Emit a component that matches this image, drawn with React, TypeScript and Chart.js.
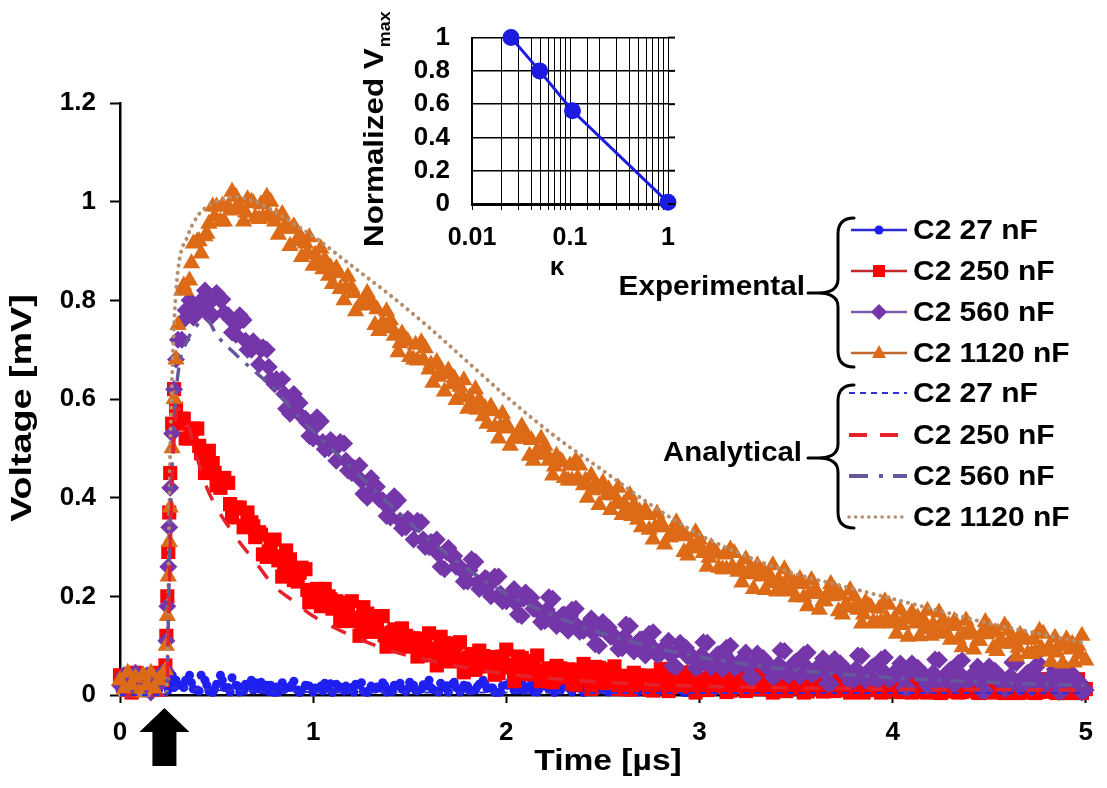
import React, { useEffect, useRef } from 'react';
import { Chart, registerables } from 'chart.js';
Chart.register(...registerables);

const FONT = "'Liberation Sans', Arial, Helvetica, sans-serif";

// ---------- main chart data ----------
// sample times (µs) of the recorded traces
const timeUs = [
  0, 0.02, 0.04, 0.06, 0.08, 0.1, 0.12, 0.14, 0.16, 0.18, 0.2, 0.22,
  0.235, 0.24, 0.245, 0.25, 0.255, 0.26, 0.27, 0.28, 0.29, 0.3,
  0.32, 0.36, 0.4, 0.44, 0.48, 0.52, 0.56, 0.6, 0.64, 0.68,
  0.72, 0.76, 0.8, 0.84, 0.88, 0.92, 0.96, 1, 1.04, 1.08,
  1.12, 1.16, 1.2, 1.24, 1.28, 1.32, 1.36, 1.4, 1.44, 1.48,
  1.52, 1.56, 1.6, 1.64, 1.68, 1.72, 1.76, 1.8, 1.84, 1.88,
  1.92, 1.96, 2, 2.04, 2.08, 2.12, 2.16, 2.2, 2.24, 2.28,
  2.32, 2.36, 2.4, 2.44, 2.48, 2.52, 2.56, 2.6, 2.64, 2.68,
  2.72, 2.76, 2.8, 2.84, 2.88, 2.92, 2.96, 3, 3.04, 3.08,
  3.12, 3.16, 3.2, 3.24, 3.28, 3.32, 3.36, 3.4, 3.44, 3.48,
  3.52, 3.56, 3.6, 3.64, 3.68, 3.72, 3.76, 3.8, 3.84, 3.88,
  3.92, 3.96, 4, 4.04, 4.08, 4.12, 4.16, 4.2, 4.24, 4.28,
  4.32, 4.36, 4.4, 4.44, 4.48, 4.52, 4.56, 4.6, 4.64, 4.68,
  4.72, 4.76, 4.8, 4.84, 4.88, 4.92, 4.96, 5,
];
// in-between sample times (µs)
const timeUsMid = [
  0.34, 0.38, 0.42, 0.46, 0.5, 0.54, 0.58, 0.62, 0.66, 0.7,
  0.74, 0.78, 0.82, 0.86, 0.9, 0.94, 0.98, 1.02, 1.06, 1.1,
  1.14, 1.18, 1.22, 1.26, 1.3, 1.34, 1.38, 1.42, 1.46, 1.5,
  1.54, 1.58, 1.62, 1.66, 1.7, 1.74, 1.78, 1.82, 1.86, 1.9,
  1.94, 1.98, 2.02, 2.06, 2.1, 2.14, 2.18, 2.22, 2.26, 2.3,
  2.34, 2.38, 2.42, 2.46, 2.5, 2.54, 2.58, 2.62, 2.66, 2.7,
  2.74, 2.78, 2.82, 2.86, 2.9, 2.94, 2.98, 3.02, 3.06, 3.1,
  3.14, 3.18, 3.22, 3.26, 3.3, 3.34, 3.38, 3.42, 3.46, 3.5,
  3.54, 3.58, 3.62, 3.66, 3.7, 3.74, 3.78, 3.82, 3.86, 3.9,
  3.94, 3.98, 4.02, 4.06, 4.1, 4.14, 4.18, 4.22, 4.26, 4.3,
  4.34, 4.38, 4.42, 4.46, 4.5, 4.54, 4.58, 4.62, 4.66, 4.7,
  4.74, 4.78, 4.82, 4.86, 4.9, 4.94, 4.98,
];
// offset sample times (µs)
const timeUsOffset = [
  0.33, 0.37, 0.41, 0.45, 0.49, 0.53, 0.57, 0.61, 0.65, 0.69,
  0.73, 0.77, 0.81, 0.85, 0.89, 0.93, 0.97, 1.01, 1.05, 1.09,
  1.13, 1.17, 1.21, 1.25, 1.29, 1.33, 1.37, 1.41, 1.45, 1.49,
  1.53, 1.57, 1.61, 1.65, 1.69, 1.73, 1.77, 1.81, 1.85, 1.89,
  1.93, 1.97, 2.01, 2.05, 2.09, 2.13, 2.17, 2.21, 2.25, 2.29,
  2.33, 2.37, 2.41, 2.45, 2.49, 2.53, 2.57, 2.61, 2.65, 2.69,
  2.73, 2.77, 2.81, 2.85, 2.89, 2.93, 2.97, 3.01, 3.05, 3.09,
  3.13, 3.17, 3.21, 3.25, 3.29, 3.33, 3.37, 3.41, 3.45, 3.49,
  3.53, 3.57, 3.61, 3.65, 3.69, 3.73, 3.77, 3.81, 3.85, 3.89,
  3.93, 3.97, 4.01, 4.05, 4.09, 4.13, 4.17, 4.21, 4.25, 4.29,
  4.33, 4.37, 4.41, 4.45, 4.49, 4.53, 4.57, 4.61, 4.65, 4.69,
  4.73, 4.77, 4.81, 4.85, 4.89, 4.93, 4.97,
];

const exp1120nF = [
  0.03, 0.01, 0.045, 0.02, 0.035, 0.005, 0.04, 0.02, 0.045, 0.01, 0.03, 0.04,
  0.05, 0.1, 0.16, 0.24, 0.31, 0.38, 0.5, 0.6, 0.68, 0.75,
  0.82, 0.84, 0.92, 0.93, 0.99, 0.96, 0.99, 1.01, 0.96, 1.0,
  0.965, 1.01, 0.96, 0.975, 0.91, 0.92, 0.915, 0.87, 0.905, 0.85,
  0.865, 0.8, 0.825, 0.79, 0.815, 0.75, 0.755, 0.76, 0.695, 0.72,
  0.68, 0.715, 0.66, 0.675, 0.615, 0.63, 0.625, 0.58, 0.62, 0.565,
  0.585, 0.52, 0.55, 0.52, 0.545, 0.485, 0.495, 0.505, 0.445, 0.475,
  0.435, 0.475, 0.425, 0.445, 0.385, 0.405, 0.405, 0.365, 0.405, 0.355,
  0.375, 0.315, 0.35, 0.32, 0.35, 0.29, 0.305, 0.315, 0.26, 0.29,
  0.255, 0.295, 0.25, 0.275, 0.215, 0.24, 0.245, 0.21, 0.255, 0.21,
  0.235, 0.18, 0.215, 0.19, 0.225, 0.17, 0.185, 0.2, 0.145, 0.18,
  0.145, 0.19, 0.145, 0.172, 0.118, 0.145, 0.152, 0.12, 0.167, 0.124,
  0.15, 0.097, 0.134, 0.11, 0.148, 0.095, 0.112, 0.13, 0.078, 0.115,
  0.083, 0.13, 0.088, 0.116, 0.064, 0.092, 0.1, 0.07,
];
const exp1120nFMid = [
  0.82, 0.915, 0.895, 0.955, 0.99, 0.96, 1.02, 0.985, 1.005, 0.968,
  0.968, 1.0, 0.933, 0.953, 0.95, 0.888, 0.928, 0.878, 0.883, 0.833,
  0.823, 0.848, 0.778, 0.798, 0.798, 0.738, 0.778, 0.728, 0.733, 0.685,
  0.678, 0.703, 0.633, 0.655, 0.658, 0.598, 0.638, 0.59, 0.598, 0.55,
  0.543, 0.57, 0.505, 0.528, 0.53, 0.475, 0.52, 0.475, 0.485, 0.44,
  0.435, 0.465, 0.4, 0.425, 0.43, 0.375, 0.42, 0.375, 0.385, 0.34,
  0.335, 0.368, 0.305, 0.33, 0.335, 0.283, 0.33, 0.288, 0.3, 0.258,
  0.255, 0.288, 0.228, 0.255, 0.263, 0.213, 0.263, 0.223, 0.238, 0.198,
  0.198, 0.233, 0.173, 0.203, 0.213, 0.163, 0.213, 0.173, 0.188, 0.148,
  0.148, 0.183, 0.124, 0.155, 0.167, 0.119, 0.171, 0.134, 0.151, 0.112,
  0.114, 0.151, 0.092, 0.124, 0.137, 0.089, 0.141, 0.104, 0.122, 0.084,
  0.087, 0.124, 0.067, 0.1, 0.113, 0.066, 0.12,
];
const exp1120nFOffset = [
  0.83, 0.875, 0.92, 0.935, 0.97, 0.992, 0.982, 0.993, 0.978, 0.997,
  0.995, 0.975, 0.97, 0.945, 0.945, 0.932, 0.897, 0.893, 0.863, 0.867,
  0.855, 0.825, 0.815, 0.79, 0.79, 0.782, 0.747, 0.743, 0.713, 0.717,
  0.71, 0.68, 0.67, 0.645, 0.65, 0.642, 0.607, 0.603, 0.578, 0.582,
  0.575, 0.545, 0.54, 0.52, 0.52, 0.517, 0.487, 0.488, 0.463, 0.472,
  0.465, 0.44, 0.435, 0.415, 0.42, 0.417, 0.387, 0.388, 0.363, 0.372,
  0.365, 0.34, 0.34, 0.32, 0.325, 0.322, 0.297, 0.298, 0.278, 0.287,
  0.285, 0.26, 0.26, 0.245, 0.25, 0.252, 0.227, 0.233, 0.213, 0.227,
  0.225, 0.205, 0.205, 0.19, 0.2, 0.202, 0.177, 0.183, 0.163, 0.177,
  0.175, 0.155, 0.155, 0.142, 0.153, 0.157, 0.134, 0.143, 0.125, 0.141,
  0.14, 0.122, 0.124, 0.11, 0.123, 0.127, 0.104, 0.113, 0.096, 0.112,
  0.113, 0.095, 0.098, 0.086, 0.099, 0.104, 0.082,
];

const exp560nF = [
  0.02, 0.04, 0.01, 0.03, 0.045, 0.015, 0.025, 0.04, 0.005, 0.035, 0.02, 0.045,
  0.05, 0.11, 0.18, 0.26, 0.34, 0.42, 0.53, 0.62, 0.68, 0.72,
  0.72, 0.8, 0.78, 0.82, 0.77, 0.8, 0.77, 0.73, 0.76, 0.7,
  0.67, 0.7, 0.63, 0.64, 0.57, 0.59, 0.56, 0.52, 0.555, 0.5,
  0.475, 0.51, 0.45, 0.465, 0.4, 0.42, 0.395, 0.36, 0.395, 0.34,
  0.315, 0.35, 0.3, 0.315, 0.255, 0.28, 0.26, 0.23, 0.27, 0.22,
  0.2, 0.24, 0.19, 0.215, 0.16, 0.195, 0.175, 0.15, 0.195, 0.145,
  0.13, 0.175, 0.13, 0.155, 0.1, 0.135, 0.12, 0.095, 0.14, 0.095,
  0.08, 0.127, 0.084, 0.11, 0.057, 0.094, 0.08, 0.058, 0.106, 0.064,
  0.052, 0.1, 0.058, 0.086, 0.035, 0.073, 0.062, 0.04, 0.089, 0.048,
  0.037, 0.086, 0.045, 0.074, 0.023, 0.062, 0.051, 0.03, 0.079, 0.038,
  0.027, 0.076, 0.035, 0.064, 0.014, 0.053, 0.043, 0.022, 0.071, 0.031,
  0.02, 0.07, 0.029, 0.058, 0.008, 0.047, 0.036, 0.016, 0.065, 0.025,
  0.014, 0.063, 0.023, 0.052, 0.008, 0.041, 0.03, 0.01,
];
const exp560nFMid = [
  0.78, 0.765, 0.8, 0.77, 0.815, 0.775, 0.735, 0.77, 0.7, 0.71,
  0.705, 0.64, 0.635, 0.58, 0.61, 0.565, 0.525, 0.563, 0.498, 0.513,
  0.513, 0.455, 0.458, 0.408, 0.44, 0.398, 0.363, 0.403, 0.338, 0.353,
  0.353, 0.3, 0.308, 0.26, 0.298, 0.26, 0.23, 0.275, 0.215, 0.235,
  0.24, 0.19, 0.203, 0.163, 0.208, 0.175, 0.148, 0.198, 0.14, 0.163,
  0.173, 0.128, 0.143, 0.103, 0.148, 0.118, 0.093, 0.143, 0.088, 0.113,
  0.124, 0.081, 0.097, 0.059, 0.106, 0.077, 0.054, 0.107, 0.055, 0.083,
  0.096, 0.054, 0.072, 0.036, 0.084, 0.058, 0.036, 0.09, 0.039, 0.068,
  0.082, 0.041, 0.06, 0.024, 0.073, 0.047, 0.026, 0.08, 0.029, 0.058,
  0.072, 0.031, 0.05, 0.014, 0.064, 0.038, 0.018, 0.072, 0.021, 0.051,
  0.065, 0.025, 0.044, 0.008, 0.058, 0.032, 0.011, 0.066, 0.015, 0.045,
  0.059, 0.018, 0.038, 0.006, 0.052, 0.026, 0.005,
];
const exp560nFOffset = [
  0.76, 0.77, 0.79, 0.79, 0.805, 0.802, 0.762, 0.753, 0.718, 0.717,
  0.7, 0.665, 0.64, 0.61, 0.605, 0.592, 0.552, 0.543, 0.513, 0.517,
  0.505, 0.475, 0.46, 0.435, 0.435, 0.422, 0.387, 0.383, 0.353, 0.357,
  0.345, 0.315, 0.31, 0.285, 0.29, 0.282, 0.252, 0.253, 0.228, 0.237,
  0.23, 0.205, 0.2, 0.185, 0.195, 0.197, 0.167, 0.173, 0.153, 0.162,
  0.16, 0.14, 0.14, 0.125, 0.135, 0.137, 0.112, 0.118, 0.098, 0.112,
  0.11, 0.092, 0.094, 0.08, 0.092, 0.096, 0.072, 0.081, 0.064, 0.081,
  0.082, 0.065, 0.068, 0.056, 0.07, 0.075, 0.054, 0.063, 0.047, 0.065,
  0.067, 0.051, 0.055, 0.044, 0.058, 0.064, 0.043, 0.053, 0.037, 0.055,
  0.057, 0.041, 0.045, 0.034, 0.049, 0.055, 0.035, 0.045, 0.029, 0.048,
  0.05, 0.035, 0.039, 0.028, 0.043, 0.049, 0.028, 0.039, 0.023, 0.042,
  0.044, 0.028, 0.033, 0.022, 0.037, 0.043, 0.022,
];

const exp250nF = [
  0.04, 0.015, 0.03, 0.005, 0.045, 0.02, 0.035, 0.01, 0.04, 0.025, 0.045, 0.03,
  0.06, 0.12, 0.2, 0.29, 0.37, 0.45, 0.55, 0.62, 0.58, 0.55,
  0.56, 0.52, 0.54, 0.45, 0.47, 0.42, 0.43, 0.38, 0.34, 0.35,
  0.33, 0.28, 0.315, 0.24, 0.275, 0.23, 0.255, 0.21, 0.18, 0.2,
  0.19, 0.15, 0.19, 0.12, 0.165, 0.13, 0.16, 0.125, 0.1, 0.12,
  0.115, 0.08, 0.125, 0.06, 0.105, 0.07, 0.107, 0.074, 0.051, 0.079,
  0.077, 0.044, 0.092, 0.028, 0.075, 0.042, 0.08, 0.048, 0.026, 0.054,
  0.052, 0.02, 0.063, 0.012, 0.055, 0.024, 0.058, 0.032, 0.011, 0.04,
  0.039, 0.009, 0.053, 0.008, 0.047, 0.017, 0.046, 0.026, 0.01, 0.035,
  0.034, 0.009, 0.043, 0.008, 0.042, 0.012, 0.041, 0.021, 0.008, 0.03,
  0.03, 0.007, 0.039, 0.007, 0.038, 0.01, 0.038, 0.017, 0.007, 0.027,
  0.026, 0.006, 0.036, 0.006, 0.035, 0.007, 0.035, 0.015, 0.006, 0.024,
  0.024, 0.006, 0.033, 0.005, 0.033, 0.008, 0.033, 0.012, 0.006, 0.022,
  0.022, 0.006, 0.032, 0.006, 0.032, 0.007, 0.032, 0.012,
];
const exp250nFMid = [
  0.52, 0.54, 0.49, 0.495, 0.425, 0.44, 0.36, 0.38, 0.37, 0.32,
  0.285, 0.308, 0.273, 0.293, 0.233, 0.258, 0.188, 0.215, 0.215, 0.175,
  0.15, 0.18, 0.15, 0.178, 0.128, 0.16, 0.098, 0.133, 0.135, 0.098,
  0.078, 0.113, 0.088, 0.118, 0.068, 0.104, 0.046, 0.083, 0.09, 0.058,
  0.041, 0.078, 0.056, 0.078, 0.044, 0.069, 0.028, 0.054, 0.059, 0.036,
  0.023, 0.049, 0.034, 0.057, 0.025, 0.052, 0.012, 0.039, 0.045, 0.023,
  0.011, 0.039, 0.024, 0.049, 0.017, 0.045, 0.005, 0.033, 0.039, 0.018,
  0.006, 0.034, 0.019, 0.044, 0.012, 0.04, 0.005, 0.028, 0.034, 0.013,
  0.005, 0.029, 0.015, 0.04, 0.008, 0.036, 0.005, 0.024, 0.031, 0.01,
  0.005, 0.026, 0.012, 0.037, 0.005, 0.033, 0.005, 0.022, 0.028, 0.007,
  0.005, 0.024, 0.009, 0.034, 0.005, 0.031, 0.004, 0.019, 0.026, 0.005,
  0.004, 0.022, 0.008, 0.033, 0.004, 0.03, 0.004,
];
const exp250nFOffset = [
  0.56, 0.53, 0.505, 0.465, 0.45, 0.437, 0.387, 0.378, 0.343, 0.342,
  0.325, 0.291, 0.281, 0.256, 0.256, 0.248, 0.213, 0.21, 0.185, 0.194,
  0.187, 0.162, 0.157, 0.139, 0.149, 0.149, 0.121, 0.127, 0.105, 0.116,
  0.114, 0.094, 0.094, 0.079, 0.089, 0.091, 0.068, 0.076, 0.058, 0.075,
  0.076, 0.058, 0.061, 0.047, 0.059, 0.063, 0.041, 0.05, 0.033, 0.05,
  0.051, 0.034, 0.038, 0.026, 0.04, 0.046, 0.025, 0.035, 0.019, 0.037,
  0.039, 0.024, 0.028, 0.018, 0.032, 0.039, 0.018, 0.029, 0.013, 0.032,
  0.034, 0.019, 0.023, 0.013, 0.027, 0.034, 0.013, 0.024, 0.008, 0.027,
  0.03, 0.014, 0.019, 0.009, 0.023, 0.03, 0.01, 0.02, 0.005, 0.024,
  0.026, 0.011, 0.016, 0.006, 0.02, 0.027, 0.007, 0.018, 0.004, 0.021,
  0.024, 0.009, 0.013, 0.004, 0.018, 0.025, 0.005, 0.015, 0.004, 0.019,
  0.022, 0.007, 0.012, 0.004, 0.017, 0.024, 0.004,
];

const exp27nF = [
  0.01, 0.03, 0.02, 0.04, 0.015, 0.025, 0.005, 0.035, 0.02, 0.03, 0.01, 0.04,
  0.03, 0.02, 0.04, 0.01, 0.03, 0.02, 0.04, 0.015, 0.03, 0.02,
  0.02, 0.04, 0.01, 0.03, 0.005, 0.04, 0.015, 0.02, 0.008, 0.03,
  0.012, 0.02, 0.005, 0.025, 0.015, 0.01, 0.02, 0.006, 0.018, 0.012,
  0.022, 0.008, 0.015, 0.02, 0.005, 0.012, 0.025, 0.01, 0.018, 0.007,
  0.02, 0.012, 0.03, 0.008, 0.015, 0.022, 0.006, 0.018, 0.01, 0.03,
  0.014, 0.005, 0.02, 0.01, 0.028, 0.012, 0.006, 0.018, 0.03, 0.009,
  0.015, 0.022, 0.005, 0.012, 0.025, 0.008, 0.018, 0.01, 0.028, 0.006,
  0.014, 0.02, 0.008, 0.03, 0.012, 0.005, 0.02, 0.015, 0.027, 0.007,
  0.018, 0.01, 0.025, 0.006, 0.014, 0.028, 0.009, 0.016, 0.005, 0.022,
  0.012, 0.026, 0.007, 0.015, 0.01, 0.028, 0.006, 0.02, 0.012, 0.024,
  0.008, 0.015, 0.03, 0.005, 0.018, 0.01, 0.025, 0.007, 0.014, 0.022,
  0.006, 0.018, 0.012, 0.027, 0.008, 0.015, 0.005, 0.022, 0.011, 0.026,
  0.007, 0.016, 0.01, 0.024, 0.006, 0.018, 0.012, 0.02,
];
const exp27nFMid = [
  0.03, 0.012, 0.04, 0.008, 0.022, 0.015, 0.035, 0.006, 0.018, 0.025,
  0.01, 0.02, 0.006, 0.015, 0.028, 0.009, 0.018, 0.012, 0.024, 0.005,
  0.016, 0.01, 0.022, 0.007, 0.018, 0.014, 0.006, 0.02, 0.012, 0.026,
  0.008, 0.018, 0.011, 0.024, 0.006, 0.015, 0.02, 0.009, 0.022, 0.013,
  0.005, 0.019, 0.027, 0.01, 0.016, 0.007, 0.021, 0.012, 0.018, 0.025,
  0.006, 0.014, 0.02, 0.009, 0.017, 0.028, 0.011, 0.006, 0.019, 0.013,
  0.023, 0.008, 0.016, 0.012, 0.02, 0.005, 0.015, 0.026, 0.009, 0.018,
  0.012, 0.007, 0.021, 0.014, 0.025, 0.006, 0.017, 0.011, 0.02, 0.008,
  0.015, 0.024, 0.006, 0.019, 0.012, 0.009, 0.022, 0.014, 0.005, 0.018,
  0.026, 0.01, 0.016, 0.007, 0.021, 0.013, 0.018, 0.006, 0.024, 0.011,
  0.015, 0.008, 0.02, 0.012, 0.027, 0.006, 0.017, 0.01, 0.022, 0.014,
  0.005, 0.019, 0.011, 0.025, 0.008, 0.016, 0.012,
];
const exp27nFOffset = [
  0.015, 0.025, 0.008, 0.02, 0.012, 0.03, 0.006, 0.018, 0.022, 0.01,
  0.026, 0.007, 0.016, 0.011, 0.021, 0.005, 0.019, 0.014, 0.008, 0.023,
  0.012, 0.018, 0.006, 0.025, 0.01, 0.016, 0.02, 0.007, 0.024, 0.013,
  0.009, 0.021, 0.015, 0.006, 0.019, 0.026, 0.011, 0.008, 0.017, 0.022,
  0.014, 0.006, 0.02, 0.016, 0.009, 0.024, 0.012, 0.018, 0.005, 0.021,
  0.013, 0.025, 0.008, 0.017, 0.011, 0.006, 0.022, 0.015, 0.009, 0.02,
  0.007, 0.018, 0.024, 0.01, 0.014, 0.019, 0.006, 0.012, 0.023, 0.016,
  0.009, 0.02, 0.013, 0.007, 0.018, 0.011, 0.025, 0.008, 0.015, 0.021,
  0.006, 0.012, 0.019, 0.014, 0.024, 0.009, 0.017, 0.005, 0.02, 0.013,
  0.011, 0.022, 0.008, 0.016, 0.006, 0.019, 0.012, 0.025, 0.01, 0.015,
  0.02, 0.007, 0.014, 0.018, 0.009, 0.023, 0.006, 0.016, 0.012, 0.02,
  0.008, 0.015, 0.021, 0.01, 0.017, 0.006, 0.013,
];

// analytical curves
const anaTimeUs = [
  0, 0.24, 0.26, 0.28, 0.3, 0.35, 0.4, 0.45, 0.5, 0.6, 0.7, 0.8, 0.9, 1, 1.2, 1.4,
  1.6, 1.8, 2, 2.25, 2.5, 2.75, 3, 3.25, 3.5, 3.75, 4, 4.25, 4.5, 4.75, 5,
];
const ana27nF = [
  0, 0, 0.012, 0.014, 0.014, 0.013, 0.012, 0.011, 0.01, 0.009, 0.008, 0.007, 0.007, 0.006, 0.006, 0.005,
  0.005, 0.005, 0.005, 0.005, 0.004, 0.004, 0.004, 0.004, 0.004, 0.004, 0.004, 0.004, 0.004, 0.004, 0.004,
];
const ana250nF = [
  0, 0, 0.3, 0.52, 0.58, 0.55, 0.48, 0.42, 0.38, 0.32, 0.27, 0.22, 0.19, 0.16, 0.12, 0.09,
  0.07, 0.055, 0.043, 0.033, 0.026, 0.021, 0.018, 0.016, 0.014, 0.013, 0.012, 0.011, 0.011, 0.01, 0.01,
];
const ana560nF = [
  0, 0, 0.35, 0.55, 0.65, 0.72, 0.75, 0.76, 0.73, 0.69, 0.655, 0.62, 0.575, 0.535, 0.46, 0.385,
  0.315, 0.255, 0.205, 0.16, 0.125, 0.098, 0.077, 0.062, 0.05, 0.042, 0.035, 0.03, 0.026, 0.022, 0.019,
];
const ana1120nF = [
  0, 0, 0.5, 0.75, 0.86, 0.93, 0.97, 0.99, 1.0, 1.01, 1.0, 0.98, 0.955, 0.93, 0.87, 0.81,
  0.745, 0.675, 0.605, 0.525, 0.455, 0.385, 0.325, 0.28, 0.245, 0.22, 0.195, 0.17, 0.145, 0.125, 0.105,
];

const seriesLabels = ['C2 27 nF', 'C2 250 nF', 'C2 560 nF', 'C2 1120 nF'];
const triggerTimeUs = 0.23;

// ---------- inset data ----------
const kappa = [0.025, 0.049, 0.106, 1.0];
const normalizedVmax = [1.0, 0.8, 0.56, 0.01];

// ---------- colours ----------
const C_BLUE = '#1f1ff0';
const C_RED = '#ff0000';
const C_PURPLE = '#7436a8';
const C_ORANGE = '#dc6a16';

const pts = (xs: number[], ys: number[]) => xs.map((x, i) => ({ x, y: ys[i] }));

function stretchText(
  ctx: CanvasRenderingContext2D,
  text: string,
  x: number,
  y: number,
  size: number,
  sx: number,
  align: CanvasTextAlign,
  baseline: CanvasTextBaseline,
  rot = 0,
) {
  ctx.save();
  ctx.translate(x, y);
  if (rot) ctx.rotate(rot);
  ctx.scale(sx, 1);
  ctx.font = `bold ${size}px ${FONT}`;
  ctx.textAlign = align;
  ctx.textBaseline = baseline;
  ctx.fillStyle = '#000';
  ctx.fillText(text, 0, 0);
  ctx.restore();
}

function drawBrace(ctx: CanvasRenderingContext2D, x0: number, top: number, bottom: number, mid: number) {
  ctx.save();
  ctx.strokeStyle = '#000';
  ctx.lineWidth = 3;
  ctx.lineCap = 'round';
  ctx.beginPath();
  ctx.moveTo(x0 + 16, top);
  ctx.quadraticCurveTo(x0, top, x0, top + 16);
  ctx.lineTo(x0, mid - 14);
  ctx.quadraticCurveTo(x0, mid, x0 - 20, mid);
  ctx.quadraticCurveTo(x0, mid, x0, mid + 14);
  ctx.lineTo(x0, bottom - 16);
  ctx.quadraticCurveTo(x0, bottom, x0 + 16, bottom);
  ctx.moveTo(x0 - 20, mid);
  ctx.lineTo(x0 - 30, mid);
  ctx.stroke();
  ctx.restore();
}

const mainDecor = {
  id: 'mainDecor',
  afterDraw(chart: any) {
    const ctx: CanvasRenderingContext2D = chart.ctx;
    const xs = chart.scales.x;

    // axis titles
    stretchText(ctx, 'Voltage [mV]', 23, 408, 29, 1.3, 'center', 'middle', -Math.PI / 2);
    stretchText(ctx, 'Time [µs]', 608, 762, 30, 1.12, 'center', 'middle');

    // arrow marking the trigger
    const ax = xs.getPixelForValue(triggerTimeUs);
    ctx.save();
    ctx.fillStyle = '#000';
    ctx.beginPath();
    ctx.moveTo(ax, 708);
    ctx.lineTo(ax + 25, 732);
    ctx.lineTo(ax + 12, 732);
    ctx.lineTo(ax + 12, 766);
    ctx.lineTo(ax - 12, 766);
    ctx.lineTo(ax - 12, 732);
    ctx.lineTo(ax - 25, 732);
    ctx.closePath();
    ctx.fill();
    ctx.restore();

    // legend
    const lx0 = 851;
    const lx1 = 907;
    const mx = 879;
    const tx = 913;
    const expY = [230, 271, 312, 353];
    const anaY = [393, 435, 476, 517];

    const expLine = ['#2a2ad8', '#c0282d', '#7a5fa8', '#c0692e'];
    expY.forEach((y, i) => {
      ctx.save();
      ctx.strokeStyle = expLine[i];
      ctx.lineWidth = 2.5;
      ctx.beginPath();
      ctx.moveTo(lx0, y);
      ctx.lineTo(lx1, y);
      ctx.stroke();
      ctx.beginPath();
      if (i === 0) {
        ctx.fillStyle = C_BLUE;
        ctx.arc(mx, y, 4.5, 0, Math.PI * 2);
      } else if (i === 1) {
        ctx.fillStyle = C_RED;
        ctx.rect(mx - 6, y - 6, 12, 12);
      } else if (i === 2) {
        ctx.fillStyle = C_PURPLE;
        ctx.moveTo(mx - 8, y);
        ctx.lineTo(mx, y - 8);
        ctx.lineTo(mx + 8, y);
        ctx.lineTo(mx, y + 8);
        ctx.closePath();
      } else {
        ctx.fillStyle = C_ORANGE;
        ctx.moveTo(mx, y - 8);
        ctx.lineTo(mx + 7, y + 5);
        ctx.lineTo(mx - 7, y + 5);
        ctx.closePath();
      }
      ctx.fill();
      ctx.restore();
      stretchText(ctx, seriesLabels[i], tx, y + 1, 28, 1.07, 'left', 'middle');
    });

    const anaStyles = [
      { c: '#2f2fd6', w: 2, d: [6, 5], cap: 'butt' },
      { c: '#e5222c', w: 4, d: [18, 13], cap: 'butt' },
      { c: '#67579c', w: 4, d: [19, 11, 4, 10], cap: 'butt' },
      { c: '#b48e6e', w: 3.5, d: [0.1, 6.5], cap: 'round' },
    ];
    anaY.forEach((y, i) => {
      const s = anaStyles[i];
      ctx.save();
      ctx.strokeStyle = s.c;
      ctx.lineWidth = s.w;
      ctx.setLineDash(s.d);
      ctx.lineCap = s.cap as CanvasLineCap;
      ctx.beginPath();
      ctx.moveTo(lx0 - 2, y);
      ctx.lineTo(lx1, y);
      ctx.stroke();
      ctx.restore();
      stretchText(ctx, seriesLabels[i], tx, y + 1, 28, 1.07, 'left', 'middle');
    });

    stretchText(ctx, 'Experimental', 805, 287, 28, 1.06, 'right', 'middle');
    stretchText(ctx, 'Analytical', 802, 453, 28, 1.05, 'right', 'middle');
    drawBrace(ctx, 838, 218, 367, 293);
    drawBrace(ctx, 838, 385, 528, 458);
  },
};

const insetDecor = {
  id: 'insetDecor',
  afterDraw(chart: any) {
    const ctx: CanvasRenderingContext2D = chart.ctx;
    const ys = chart.scales.y;
    const area = chart.chartArea;
    // mirrored tick marks on the right side
    ctx.save();
    ctx.strokeStyle = '#000';
    ctx.lineWidth = 2;
    [0, 0.2, 0.4, 0.6, 0.8, 1].forEach((v) => {
      const y = ys.getPixelForValue(v);
      ctx.beginPath();
      ctx.moveTo(area.right, y);
      ctx.lineTo(area.right + 7, y);
      ctx.stroke();
    });
    ctx.restore();

    // y title with subscript
    ctx.save();
    ctx.translate(33, 247);
    ctx.rotate(-Math.PI / 2);
    ctx.scale(1.12, 1);
    ctx.fillStyle = '#000';
    ctx.textAlign = 'left';
    ctx.textBaseline = 'alphabetic';
    ctx.font = `bold 28px ${FONT}`;
    const main = 'Normalized V';
    ctx.fillText(main, 0, 0);
    const w = ctx.measureText(main).width;
    ctx.font = `bold 16px ${FONT}`;
    ctx.fillText('max', w + 1, 7);
    ctx.restore();

    // x title
    stretchText(ctx, 'κ', 207, 268, 26, 1.0, 'center', 'middle');
  },
};

const tickFont = { family: FONT, size: 26, weight: 'bold' as const };

export default function App() {
  const mainRef = useRef<HTMLCanvasElement>(null);
  const insetRef = useRef<HTMLCanvasElement>(null);

  useEffect(() => {
    document.body.style.margin = '0';
    const expCommon = { showLine: false, clip: false as any, borderWidth: 0 };
    const lineCommon = {
      showLine: true,
      pointRadius: 0,
      fill: false,
      clip: false as any,
      cubicInterpolationMode: 'monotone' as const,
    };
    const main = new Chart(mainRef.current!, {
      type: 'scatter',
      data: {
        datasets: [
          { ...lineCommon, label: 'Analytical ' + seriesLabels[0], data: pts(anaTimeUs, ana27nF), borderColor: '#2f2fd6', borderWidth: 2, borderDash: [6, 5] },
          { ...lineCommon, label: 'Analytical ' + seriesLabels[1], data: pts(anaTimeUs, ana250nF), borderColor: '#e5222c', borderWidth: 3.5, borderDash: [16, 16] },
          { ...lineCommon, label: 'Analytical ' + seriesLabels[2], data: pts(anaTimeUs, ana560nF), borderColor: '#67579c', borderWidth: 3.5, borderDash: [14, 9, 4, 9] },
          { ...lineCommon, label: 'Analytical ' + seriesLabels[3], data: pts(anaTimeUs, ana1120nF), borderColor: '#b48e6e', borderWidth: 4, borderDash: [0.1, 7], borderCapStyle: 'round' },
          {
            ...expCommon,
            label: 'Experimental ' + seriesLabels[3],
            data: [...pts(timeUs, exp1120nF), ...pts(timeUsMid, exp1120nFMid), ...pts(timeUsOffset, exp1120nFOffset)],
            pointStyle: 'triangle', pointRadius: 10, backgroundColor: C_ORANGE, borderColor: C_ORANGE,
          },
          {
            ...expCommon,
            label: 'Experimental ' + seriesLabels[2],
            data: [...pts(timeUs, exp560nF), ...pts(timeUsMid, exp560nFMid), ...pts(timeUsOffset, exp560nFOffset)],
            pointStyle: 'rectRot', pointRadius: 9, backgroundColor: C_PURPLE, borderColor: C_PURPLE,
          },
          {
            ...expCommon,
            label: 'Experimental ' + seriesLabels[1],
            data: [...pts(timeUs, exp250nF), ...pts(timeUsMid, exp250nFMid), ...pts(timeUsOffset, exp250nFOffset)],
            pointStyle: 'rect', pointRadius: 10, backgroundColor: C_RED, borderColor: C_RED,
          },
          {
            ...expCommon,
            label: 'Experimental ' + seriesLabels[0],
            data: [...pts(timeUs, exp27nF), ...pts(timeUsMid, exp27nFMid), ...pts(timeUsOffset, exp27nFOffset)],
            pointStyle: 'circle', pointRadius: 4.5, backgroundColor: C_BLUE, borderColor: C_BLUE,
          },
        ] as any,
      },
      options: {
        responsive: false,
        animation: false,
        events: [],
        layout: { padding: { top: 103, right: 12, left: 0, bottom: 0 } },
        plugins: { legend: { display: false }, tooltip: { enabled: false } },
        scales: {
          x: {
            type: 'linear',
            min: 0,
            max: 5,
            ticks: { stepSize: 1, font: tickFont, color: '#000', padding: 14, maxRotation: 0 },
            grid: { display: true, drawOnChartArea: false, drawTicks: true, tickLength: 8, tickWidth: 2, tickColor: '#000' },
            border: { display: true, color: '#000', width: 2.5 },
            afterFit: (s: any) => { s.height = 93; },
          },
          y: {
            min: 0,
            max: 1.2,
            ticks: {
              stepSize: 0.2,
              autoSkip: false,
              font: tickFont,
              color: '#000',
              padding: 14,
              callback: (v: any) => String(Math.round(Number(v) * 10) / 10),
            },
            grid: { display: true, drawOnChartArea: false, drawTicks: true, tickLength: 10, tickWidth: 2, tickColor: '#000' },
            border: { display: true, color: '#000', width: 2.5 },
            afterFit: (s: any) => { s.width = 120; },
          },
        },
      } as any,
      plugins: [mainDecor],
    });

    const inset = new Chart(insetRef.current!, {
      type: 'scatter',
      data: {
        datasets: [
          {
            label: 'Normalized Vmax',
            data: pts(kappa, normalizedVmax),
            showLine: true,
            borderColor: '#1c1ce0',
            backgroundColor: '#1c1ce0',
            borderWidth: 3,
            pointRadius: 7,
            clip: false as any,
          },
        ] as any,
      },
      options: {
        responsive: false,
        animation: false,
        events: [],
        layout: { padding: { top: 18, right: 22, left: 0, bottom: 0 } },
        plugins: { legend: { display: false }, tooltip: { enabled: false } },
        scales: {
          x: {
            type: 'logarithmic',
            min: 0.01,
            max: 1,
            ticks: {
              autoSkip: false,
              maxRotation: 0,
              font: { family: FONT, size: 25, weight: 'bold' },
              color: '#000',
              padding: 13,
              callback: (v: any) => {
                const l = Math.log10(Number(v));
                return Math.abs(l - Math.round(l)) < 1e-6 ? String(Number(v)) : '';
              },
            },
            grid: { color: '#000', lineWidth: 1, drawTicks: true, tickLength: 6, tickColor: '#000' },
            border: { color: '#000', width: 3 },
            afterFit: (s: any) => { s.height = 86; },
          },
          y: {
            min: 0,
            max: 1,
            ticks: {
              stepSize: 0.2,
              autoSkip: false,
              font: { family: FONT, size: 26, weight: 'bold' },
              color: '#000',
              padding: 22,
              callback: (v: any) => String(Math.round(Number(v) * 10) / 10),
            },
            grid: { color: '#000', lineWidth: 1.5, drawTicks: false },
            border: { color: '#000', width: 1.5 },
            afterFit: (s: any) => { s.width = 122; },
          },
        },
      } as any,
      plugins: [insetDecor],
    });

    return () => {
      main.destroy();
      inset.destroy();
    };
  }, []);

  return (
    <div style={{ position: 'relative', width: 1107, height: 788, background: '#fff' }}>
      <canvas ref={mainRef} width={1107} height={788} style={{ position: 'absolute', left: 0, top: 0, width: 1107, height: 788 }} />
      <canvas ref={insetRef} width={340} height={290} style={{ position: 'absolute', left: 350, top: 0, width: 340, height: 290 }} />
    </div>
  );
}
